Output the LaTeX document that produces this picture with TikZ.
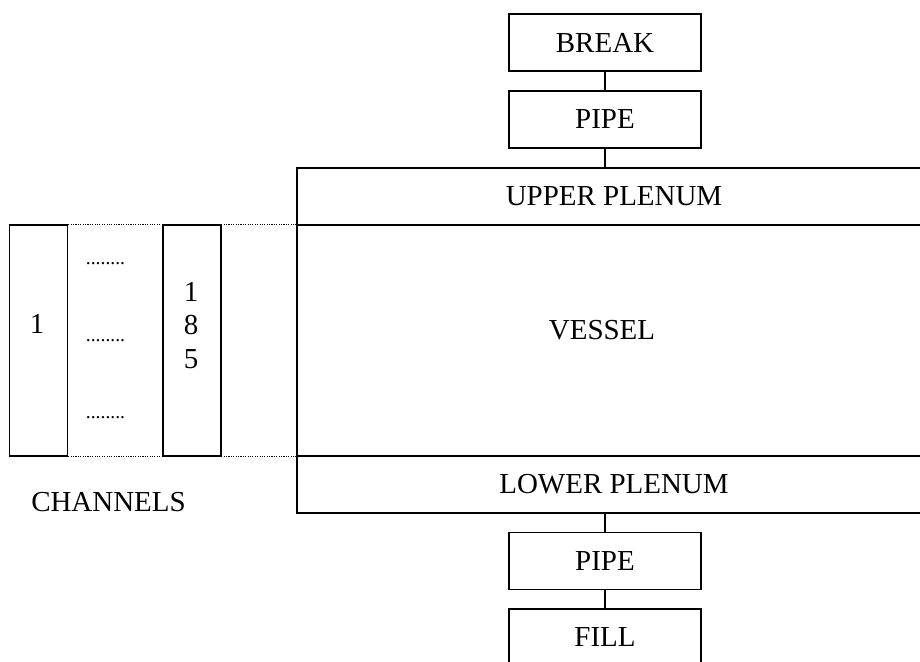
\documentclass[tikz,border=0pt]{standalone}
\usepackage{fontspec}
\setmainfont{Liberation Serif}
\usepackage{tikz}
\usetikzlibrary{positioning,calc}

\begin{document}
\begin{tikzpicture}[x=0.025cm, y=-0.025cm,
  font=\fontsize{20.6}{23.7}\selectfont,
  box/.style={draw, line width=1.1pt, inner sep=0pt, minimum height=1.425cm},
  smallbox/.style={box, minimum width=4.8cm},
  widebox/.style={box, minimum width=15.85cm},
  chanbox/.style={box, minimum width=1.46cm, minimum height=5.775cm},
  link/.style={line width=1.1pt},
  guide/.style={line width=0.7pt, dash pattern=on 0.8pt off 0.9pt},
  dots/.style={inner sep=0pt, anchor=base, font=\fontsize{13.9}{16}\selectfont}]
  % Page frame (the plenum boxes run past the right edge)
  \useasboundingbox (0,0) rectangle (920,662);
  \clip (0,0) rectangle (920,662);

  % Top chain
  \node[smallbox] (break)   at (605,42.5)  {BREAK};
  \node[smallbox] (pipeTop) at (605,119.5) {PIPE};

  % Vessel column
  \node[widebox] (upper)  at (614,196.5) {UPPER PLENUM};
  \node[box, minimum width=15.85cm, minimum height=5.775cm] (vessel) at (614,340.5) {};
  \node (vesselLbl) at (602,330) {VESSEL};
  \node[widebox] (lower)  at (614,484.5) {LOWER PLENUM};

  % Bottom chain
  \node[smallbox] (pipeBot) at (605,561)   {PIPE};
  \node[smallbox] (fill)    at (605,637.5) {FILL};

  \draw[link] (break.south) -- (pipeTop.north);
  \draw[link] (pipeTop.south) -- (pipeTop.south |- upper.north);
  \draw[link] (lower.south -| pipeBot.north) -- (pipeBot.north);
  \draw[link] (pipeBot.south) -- (fill.north);

  % Channels
  \node[chanbox] (chFirst) at (38.5,340.5) {};
  \node (chFirstLbl) at (37,324) {1};
  \node[chanbox] (chLast) at (192,340.5) {};
  \node[align=center, inner sep=0pt] (chLastLbl) at (191,325.5) {1\\8\\5};
  \foreach \yy [count=\k] in {265,341.5,418} {
    \node[dots] (gap\k) at (105.5,\yy) {........};
  }
  \draw[guide] (chFirst.north west) -- (vessel.north west);
  \draw[guide] (chFirst.south west) -- (vessel.south west);
  \node (chTitle) at (108.5,502.5) {CHANNELS};
\end{tikzpicture}
\end{document}
